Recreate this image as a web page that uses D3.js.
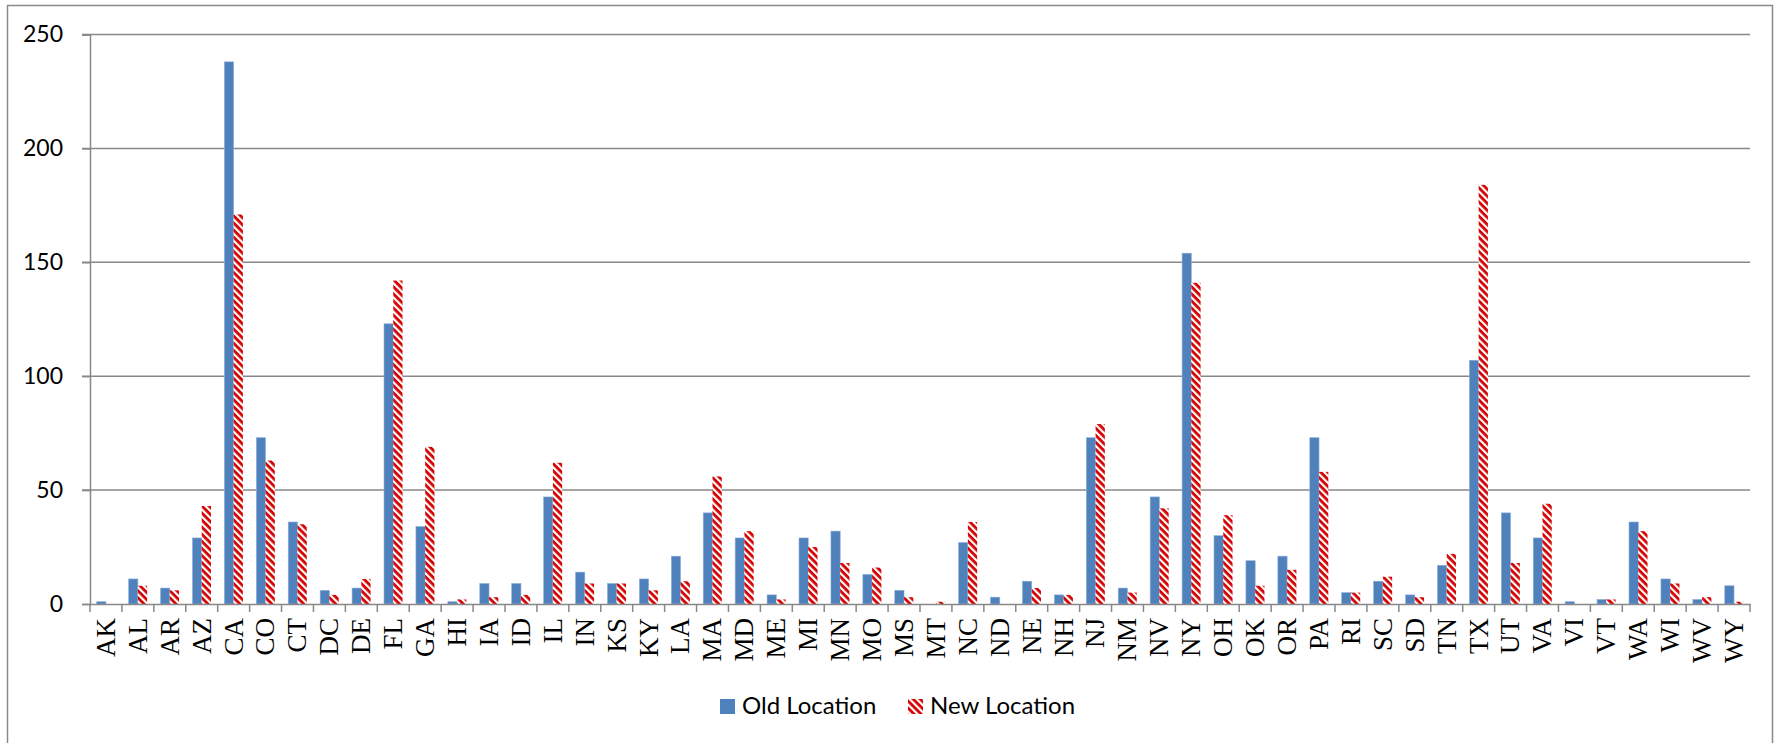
<!DOCTYPE html>
<html>
<head>
<meta charset="utf-8">
<script src="https://cdn.jsdelivr.net/npm/d3@7"></script>
<style>
  body { margin: 0; background: #fff; }
  .tickText { font-family: Lato, "Open Sans", sans-serif; font-size: 23px; fill: #000; }
  .stateText { font-family: "Liberation Serif", "Times New Roman", serif; font-size: 27px; fill: #000; }
  .legendText { font-family: Lato, "Open Sans", sans-serif; font-size: 24px; fill: #000; }
</style>
</head>
<body>
<script>
// data
var states = ["AK","AL","AR","AZ","CA","CO","CT","DC","DE","FL","GA","HI","IA","ID","IL","IN","KS","KY","LA","MA",
              "MD","ME","MI","MN","MO","MS","MT","NC","ND","NE","NH","NJ","NM","NV","NY","OH","OK","OR","PA","RI",
              "SC","SD","TN","TX","UT","VA","VI","VT","WA","WI","WV","WY"];
var oldLocation = [1,11,7,29,238,73,36,6,7,123,34,1,9,9,47,14,9,11,21,40,
                   29,4,29,32,13,6,0,27,3,10,4,73,7,47,154,30,19,21,73,5,
                   10,4,17,107,40,29,1,2,36,11,2,8];
var newLocation = [0,8,6,43,171,63,35,4,11,142,69,2,3,4,62,9,9,6,10,56,
                   32,2,25,18,16,3,1,36,0,7,4,79,5,42,141,39,8,15,58,5,
                   12,3,22,184,18,44,0,2,32,9,3,1];
var seriesNames = ["Old Location", "New Location"];
var yTicks = [0, 50, 100, 150, 200, 250];

var w = 1779, h = 743;
var plotLeft = 90, plotRight = 1750, plotTop = 34.5, plotBottom = 604;

var svg = d3.select("body").append("svg")
	.attr("width", w)
	.attr("height", h);

// hatch for the new location bars
var defs = svg.append("defs");
var pat = defs.append("pattern")
	.attr("id", "hatch")
	.attr("patternUnits", "userSpaceOnUse")
	.attr("width", 5)
	.attr("height", 5)
	.attr("patternTransform", "rotate(45)");
pat.append("rect").attr("width", 5).attr("height", 5).attr("fill", "#fff");
pat.append("rect").attr("width", 5).attr("height", 2.8).attr("fill", "#d40000");

// outer frame
svg.append("rect")
	.attr("x", 7.5).attr("y", 5.5)
	.attr("width", 1765).attr("height", 800)
	.attr("fill", "none")
	.attr("stroke", "#8a8a8a")
	.attr("stroke-width", 1.5);

var x = d3.scaleBand().domain(states).range([plotLeft, plotRight]).padding(0);
var x1 = d3.scaleBand().domain(seriesNames)
	.range([x.bandwidth() * 0.21, x.bandwidth() * 0.79]);
var y = d3.scaleLinear().domain([0, 250]).range([plotBottom, plotTop]);

// gridlines
svg.append("g").selectAll("line")
	.data(yTicks.slice(1))
	.enter().append("line")
	.attr("x1", plotLeft - 8).attr("x2", plotRight)
	.attr("y1", function(d) { return y(d); })
	.attr("y2", function(d) { return y(d); })
	.attr("stroke", "#888")
	.attr("stroke-width", 1.5);

// y axis
var yAxis = svg.append("g")
	.attr("transform", "translate(" + plotLeft + ",0)")
	.call(d3.axisLeft(y).tickValues(yTicks).tickSize(8).tickPadding(19));
yAxis.select(".domain").attr("stroke", "#888").attr("stroke-width", 1.5);
yAxis.selectAll(".tick line").attr("stroke", "#888").attr("stroke-width", 1.5);
yAxis.selectAll(".tick text").attr("class", "tickText").attr("font-family", null).attr("font-size", null);

// bars
var rows = states.map(function(s, i) {
	return { state: s, values: [oldLocation[i], newLocation[i]] };
});
var groups = svg.append("g").selectAll("g")
	.data(rows)
	.enter().append("g")
	.attr("transform", function(d) { return "translate(" + x(d.state) + ",0)"; });

groups.selectAll("rect")
	.data(function(d) {
		return d.values.map(function(v, k) { return { key: seriesNames[k], value: v }; });
	})
	.enter().append("rect")
	.attr("x", function(d) { return x1(d.key); })
	.attr("width", x1.bandwidth())
	.attr("y", function(d) { return y(d.value); })
	.attr("height", function(d) { return y(0) - y(d.value); })
	.attr("fill", function(d) { return d.key == "Old Location" ? "#4f81bd" : "url(#hatch)"; })
	.attr("stroke", function(d) { return d.key == "Old Location" && d.value > 0 ? "#8fb0d8" : "none"; })
	.attr("stroke-width", 0.6);

// x axis line, ticks between categories
var xAxis = svg.append("g")
	.attr("transform", "translate(0," + plotBottom + ")")
	.call(d3.axisBottom(x).tickSize(0).tickPadding(0));
xAxis.select(".domain").attr("stroke", "#888").attr("stroke-width", 1.5);
xAxis.selectAll(".tick text")
	.attr("class", "stateText")
	.attr("font-family", null).attr("font-size", null)
	.attr("text-anchor", "end")
	.attr("transform", "translate(0,14) rotate(-90)")
	.attr("x", 0).attr("y", 0)
	.attr("dy", "0.33em");

var bounds = states.map(function(s) { return x(s); }).concat([plotRight]);
xAxis.append("g").selectAll("line")
	.data(bounds)
	.enter().append("line")
	.attr("x1", function(d) { return d; }).attr("x2", function(d) { return d; })
	.attr("y1", 0).attr("y2", 8)
	.attr("stroke", "#888")
	.attr("stroke-width", 1.5);

// legend
var legendX = [720, 908];
var legend = svg.append("g").selectAll("g")
	.data(seriesNames)
	.enter().append("g")
	.attr("transform", function(d, i) { return "translate(" + legendX[i] + ",699)"; });
legend.append("rect")
	.attr("width", 15).attr("height", 15)
	.attr("fill", function(d, i) { return i == 0 ? "#4f81bd" : "url(#hatch)"; });
legend.append("text")
	.attr("class", "legendText")
	.attr("x", 22).attr("y", 15)
	.text(function(d) { return d; });
</script>
</body>
</html>
